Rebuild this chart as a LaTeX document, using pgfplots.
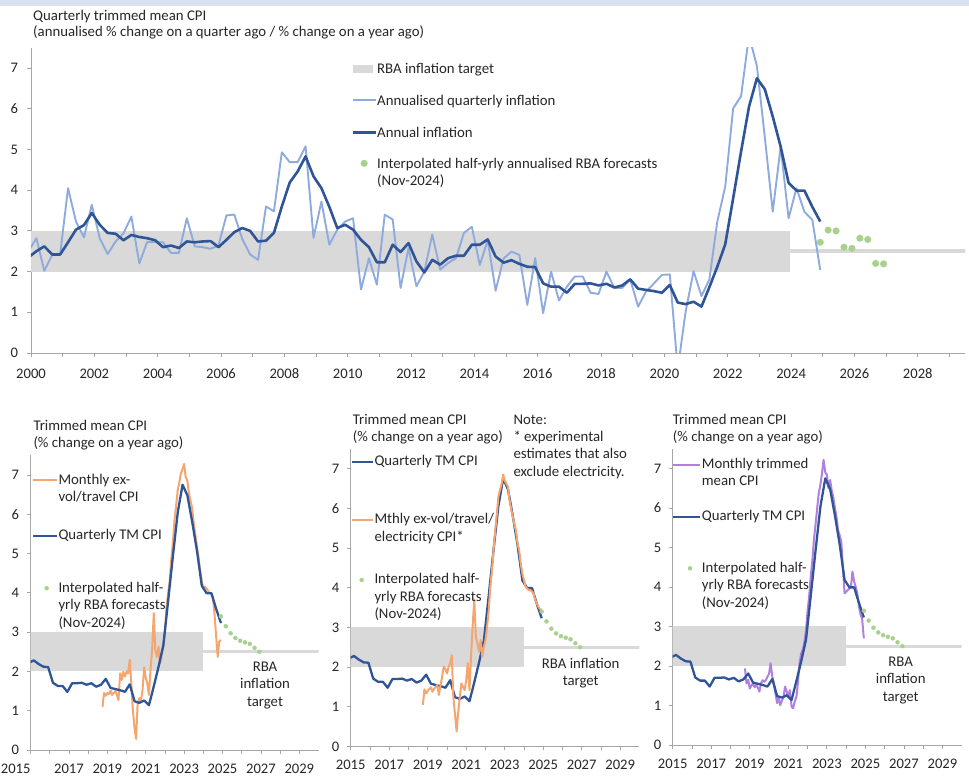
\documentclass[border=0pt]{standalone}
\usepackage{pgfplots}
\pgfplotsset{compat=1.18}
\usepackage{pgfplotstable}
\usepackage{fontspec}
\setmainfont{Carlito}
\definecolor{band}{HTML}{D9D9D9}
\definecolor{lightblue}{HTML}{8FAADC}
\definecolor{darkblue}{HTML}{2F5597}
\definecolor{fcgreen}{HTML}{A9D18E}
\definecolor{orangeline}{HTML}{F5A56E}
\definecolor{purpleline}{HTML}{B07FE0}
\definecolor{headblue}{HTML}{D9E2F3}
\definecolor{axisgray}{HTML}{A6A6A6}
\definecolor{txt}{HTML}{262626}

% quarterly trimmed mean: annual (ann) and annualised quarterly (qtr)
\pgfplotstableread{
x ann qtr
1999.92 2.35 2.50
2000.17 2.50 2.82
2000.42 2.62 2.02
2000.67 2.42 2.41
2000.92 2.42 2.42
2001.17 2.72 4.05
2001.42 3.03 3.23
2001.67 3.14 2.84
2001.92 3.44 3.64
2002.17 3.15 2.82
2002.42 2.95 2.43
2002.67 2.93 2.74
2002.92 2.77 2.94
2003.17 2.90 3.35
2003.42 2.85 2.20
2003.67 2.82 2.73
2003.92 2.77 2.72
2004.17 2.60 2.72
2004.42 2.64 2.46
2004.67 2.58 2.46
2004.92 2.74 3.31
2005.17 2.72 2.62
2005.42 2.74 2.60
2005.67 2.75 2.56
2005.92 2.60 2.64
2006.17 2.78 3.38
2006.42 2.97 3.40
2006.67 3.07 2.80
2006.92 3.00 2.42
2007.17 2.74 2.29
2007.42 2.76 3.60
2007.67 2.95 3.48
2007.92 3.60 4.93
2008.17 4.19 4.69
2008.42 4.46 4.69
2008.67 4.83 5.08
2008.92 4.34 2.83
2009.17 4.05 3.72
2009.42 3.59 2.66
2009.67 3.07 3.03
2009.92 3.15 3.23
2010.17 3.03 3.31
2010.42 2.78 1.56
2010.67 2.60 2.33
2010.92 2.23 1.68
2011.17 2.23 3.40
2011.42 2.66 3.28
2011.67 2.48 1.60
2011.92 2.70 2.58
2012.17 2.25 1.64
2012.42 1.98 2.00
2012.67 2.29 2.91
2012.92 2.17 2.05
2013.17 2.33 2.21
2013.42 2.39 2.33
2013.67 2.39 2.95
2013.92 2.66 3.10
2014.17 2.66 2.16
2014.42 2.79 2.77
2014.67 2.37 1.53
2014.92 2.22 2.32
2015.17 2.28 2.49
2015.42 2.19 2.41
2015.67 2.12 1.18
2015.92 2.11 2.33
2016.17 1.71 0.98
2016.42 1.63 2.00
2016.67 1.63 1.29
2016.92 1.48 1.63
2017.17 1.70 1.88
2017.42 1.70 1.88
2017.67 1.71 1.48
2017.92 1.66 1.45
2018.17 1.70 2.00
2018.42 1.61 1.60
2018.67 1.66 1.60
2018.92 1.81 1.81
2019.17 1.58 1.14
2019.42 1.55 1.51
2019.67 1.52 1.71
2019.92 1.48 1.92
2020.17 1.67 1.93
2020.42 1.24 -0.40
2020.67 1.20 1.02
2020.92 1.26 2.01
2021.17 1.14 1.40
2021.42 1.62 1.81
2021.67 2.12 3.23
2021.92 2.67 4.09
2022.17 3.80 6.01
2022.42 4.95 6.31
2022.67 6.05 7.80
2022.92 6.75 7.05
2023.17 6.48 5.30
2023.42 5.81 3.47
2023.67 5.07 5.07
2023.92 4.18 3.31
2024.17 3.99 4.05
2024.42 3.99 3.47
2024.67 3.59 3.27
2024.92 3.23 2.04
}\quarterly

% interpolated half-yearly annualised RBA forecasts (top panel)
\pgfplotstableread{
x v
2024.92 2.72
2025.17 3.02
2025.42 3.00
2025.67 2.60
2025.92 2.57
2026.17 2.82
2026.42 2.79
2026.67 2.20
2026.92 2.19
}\fcTop

% interpolated RBA forecasts, year-ended (bottom panels)
\pgfplotstableread{
x v
2024.92 3.40
2025.17 3.15
2025.42 2.97
2025.67 2.85
2025.92 2.78
2026.17 2.74
2026.42 2.70
2026.67 2.60
2026.92 2.50
}\fcYr

% monthly ex-volatile/travel CPI
\pgfplotstableread{
x v
2018.75 1.10
2018.83 1.45
2018.92 1.38
2019.00 1.45
2019.08 1.42
2019.17 1.51
2019.25 1.40
2019.33 1.45
2019.42 1.50
2019.50 1.40
2019.58 1.27
2019.67 1.95
2019.75 1.78
2019.83 1.99
2019.92 1.87
2020.00 2.00
2020.08 1.95
2020.17 2.29
2020.25 1.70
2020.33 1.02
2020.42 0.55
2020.50 0.28
2020.58 1.19
2020.67 1.32
2020.75 1.25
2020.83 1.50
2020.92 2.10
2021.00 1.85
2021.08 1.70
2021.17 1.40
2021.25 2.04
2021.33 2.50
2021.42 3.48
2021.50 2.54
2021.58 2.37
2021.67 2.63
2021.75 2.20
2021.83 2.40
2021.92 2.63
2022.00 3.00
2022.08 3.60
2022.17 4.00
2022.25 4.30
2022.33 4.83
2022.42 5.30
2022.50 5.85
2022.58 6.20
2022.67 6.62
2022.75 6.80
2022.83 7.04
2022.92 7.15
2023.00 7.28
2023.08 6.95
2023.17 6.85
2023.25 6.53
2023.33 6.35
2023.42 6.15
2023.50 5.77
2023.58 5.50
2023.67 5.17
2023.75 4.92
2023.83 4.60
2023.92 4.30
2024.00 4.11
2024.08 4.16
2024.17 4.11
2024.25 4.05
2024.33 3.99
2024.42 3.99
2024.50 3.90
2024.58 3.48
2024.67 2.88
2024.75 2.37
2024.83 2.76
2024.92 2.80
}\mA

% monthly ex-volatile/travel/electricity CPI
\pgfplotstableread{
x v
2018.75 1.05
2018.83 1.44
2018.92 1.34
2019.00 1.40
2019.08 1.45
2019.17 1.49
2019.25 1.38
2019.33 1.45
2019.42 1.50
2019.50 1.55
2019.58 1.30
2019.67 1.55
2019.75 1.76
2019.83 2.01
2019.92 1.95
2020.00 1.84
2020.08 2.00
2020.17 2.10
2020.25 2.30
2020.33 1.25
2020.42 0.80
2020.50 0.38
2020.58 0.84
2020.67 1.25
2020.75 1.59
2020.83 1.50
2020.92 1.42
2021.00 1.68
2021.08 2.10
2021.17 1.42
2021.25 2.26
2021.33 3.00
2021.42 3.70
2021.50 2.77
2021.58 2.60
2021.67 2.39
2021.75 2.68
2021.83 2.26
2021.92 2.51
2022.00 2.68
2022.08 3.00
2022.17 3.44
2022.25 4.00
2022.33 4.40
2022.42 4.95
2022.50 5.40
2022.58 5.79
2022.67 6.29
2022.75 6.45
2022.83 6.59
2022.92 6.85
2023.00 6.70
2023.08 6.63
2023.17 6.54
2023.25 6.21
2023.33 6.00
2023.42 5.79
2023.50 5.60
2023.58 5.45
2023.67 5.10
2023.75 4.95
2023.83 4.61
2023.92 4.35
2024.00 4.19
2024.08 4.03
2024.17 3.98
2024.25 3.94
2024.33 3.94
2024.42 3.90
2024.50 3.86
2024.58 3.70
2024.67 3.60
2024.75 3.52
2024.83 3.46
2024.92 3.44
}\mB

% monthly trimmed mean CPI
\pgfplotstableread{
x v
2018.75 1.94
2018.83 1.56
2018.92 1.65
2019.00 1.43
2019.08 1.50
2019.17 1.56
2019.25 1.46
2019.33 1.52
2019.42 1.45
2019.50 1.35
2019.58 1.56
2019.67 1.64
2019.75 1.60
2019.83 1.64
2019.92 1.73
2020.00 1.80
2020.08 2.07
2020.17 1.73
2020.25 1.56
2020.33 1.31
2020.42 1.06
2020.50 1.22
2020.58 1.01
2020.67 1.12
2020.75 1.22
2020.83 1.48
2020.92 1.35
2021.00 1.22
2021.08 1.39
2021.17 0.97
2021.25 0.93
2021.33 1.10
2021.42 1.22
2021.50 1.56
2021.58 2.07
2021.67 2.32
2021.75 2.41
2021.83 2.60
2021.92 2.91
2022.00 3.40
2022.08 3.75
2022.17 4.30
2022.25 4.68
2022.33 5.20
2022.42 5.61
2022.50 6.00
2022.58 6.37
2022.67 6.60
2022.75 6.88
2022.83 7.22
2022.92 6.90
2023.00 6.84
2023.08 6.50
2023.17 6.71
2023.25 6.45
2023.33 6.29
2023.42 6.00
2023.50 5.78
2023.58 5.44
2023.67 5.30
2023.75 5.15
2023.83 4.51
2023.92 3.84
2024.00 3.88
2024.08 3.92
2024.17 3.96
2024.25 4.01
2024.33 4.39
2024.42 4.13
2024.50 4.00
2024.58 3.84
2024.67 3.50
2024.75 3.30
2024.83 3.20
2024.92 2.70
}\mC

\pgfplotsset{
  cpiaxis/.style={
    scale only axis, anchor=south west, enlargelimits=false,
    axis x line*=bottom, axis y line*=left,
    ymin=0, ymax=7.5, ytick={0,1,...,7},
    tick align=outside, major tick length=4pt, minor tick length=4pt,
    axis line style={axisgray, line width=0.8pt},
    tick style={axisgray, line width=0.8pt},
    tick label style={font=\fontsize{14.6}{16}\selectfont, text=txt},
    /pgf/number format/assume math mode=true,
    /pgf/number format/1000 sep={},
    every axis plot/.append style={line join=round},
  },
  smallpanel/.style={
    cpiaxis, width=288pt, xmin=2015, xmax=2030,
    xtick={2015,2017,...,2029}, minor xtick={2016,2018,...,2028},
    xticklabel style={yshift=-6pt}, yticklabel style={xshift=-4pt},
  },
}

\begin{document}
\begin{tikzpicture}[font=\fontsize{14.8}{17}\selectfont]
\useasboundingbox (0pt,0pt) rectangle (969pt,776pt);

% ---------- top chart ----------
\begin{axis}[cpiaxis, at={(31pt,423pt)}, width=934.3pt, height=305.25pt,
  xmin=2000, xmax=2029.5,
  xtick={2000,2002,...,2028}, minor xtick={2001,2003,...,2029},
  xticklabel style={yshift=-8pt}, yticklabel style={xshift=-5.5pt}]
\addplot[fill=band, draw=none] coordinates {(1999,2) (2023.95,2) (2023.95,3) (1999,3)};
\addplot[band, line width=4pt] coordinates {(2023.95,2.5) (2031,2.5)};
\addplot[lightblue, line width=1.9pt] table[x=x, y=qtr] {\quarterly};
\addplot[darkblue, line width=2.6pt] table[x=x, y=ann] {\quarterly};
\addplot[only marks, mark=*, mark size=3.3pt, fcgreen] table[x=x, y=v] {\fcTop};
% legend samples
\addplot[fill=band, draw=none] coordinates {(2010.17,6.87) (2010.80,6.87) (2010.80,7.08) (2010.17,7.08)};
\addplot[lightblue, line width=1.9pt] coordinates {(2010.17,6.216) (2010.89,6.216)};
\addplot[darkblue, line width=2.6pt] coordinates {(2010.17,5.42) (2010.89,5.42)};
\addplot[only marks, mark=*, mark size=3.3pt, fcgreen] coordinates {(2010.52,4.66)};
\end{axis}

% ---------- bottom left ----------
\begin{axis}[smallpanel, at={(30.5pt,26pt)}, height=294.75pt,
  xticklabels={\makebox[0pt][r]{2015},2017,2019,2021,2023,2025,2027,2029}]
\addplot[fill=band, draw=none] coordinates {(2014,2) (2024,2) (2024,3) (2014,3)};
\addplot[band, line width=3pt] coordinates {(2024,2.5) (2031,2.5)};
\addplot[orangeline, line width=2pt] table[x=x, y=v] {\mA};
\addplot[darkblue, line width=2.3pt] table[x=x, y=ann] {\quarterly};
\addplot[only marks, mark=*, mark size=2pt, fcgreen] table[x=x, y=v] {\fcYr};
\addplot[orangeline, line width=2pt] coordinates {(2015.15,6.87) (2016.37,6.87)};
\addplot[darkblue, line width=2.3pt] coordinates {(2015.15,5.453) (2016.37,5.453)};
\addplot[only marks, mark=*, mark size=2pt, fcgreen] coordinates {(2015.84,4.115)};
\end{axis}

% ---------- bottom middle ----------
\begin{axis}[smallpanel, at={(350.7pt,29.5pt)}, height=297.75pt, width=288.75pt]
\addplot[fill=band, draw=none] coordinates {(2014,2) (2024,2) (2024,3) (2014,3)};
\addplot[band, line width=3pt] coordinates {(2024,2.5) (2031,2.5)};
\addplot[darkblue, line width=2.3pt] table[x=x, y=ann] {\quarterly};
\addplot[orangeline, line width=2pt] table[x=x, y=v] {\mB};
\addplot[only marks, mark=*, mark size=2pt, fcgreen] table[x=x, y=v] {\fcYr};
\addplot[darkblue, line width=2.3pt] coordinates {(2015.05,7.174) (2016.17,7.174)};
\addplot[orangeline, line width=2pt] coordinates {(2015.05,5.705) (2016.17,5.705)};
\addplot[only marks, mark=*, mark size=2pt, fcgreen] coordinates {(2015.57,4.194)};
\end{axis}

% ---------- bottom right ----------
\begin{axis}[smallpanel, at={(672.7pt,31pt)}, height=296.25pt, width=289pt]
\addplot[fill=band, draw=none] coordinates {(2014,2) (2024,2) (2024,3) (2014,3)};
\addplot[band, line width=3pt] coordinates {(2024,2.5) (2031,2.5)};
\addplot[purpleline, line width=2pt] table[x=x, y=v] {\mC};
\addplot[darkblue, line width=2.3pt] table[x=x, y=ann] {\quarterly};
\addplot[only marks, mark=*, mark size=2pt, fcgreen] table[x=x, y=v] {\fcYr};
\addplot[purpleline, line width=2pt] coordinates {(2015.03,7.089) (2016.42,7.089)};
\addplot[darkblue, line width=2.3pt] coordinates {(2015.03,5.78) (2016.42,5.78)};
\addplot[only marks, mark=*, mark size=2pt, fcgreen] coordinates {(2015.90,4.473)};
\end{axis}

% ---------- texts ----------
\begin{scope}[shift={(0pt,776pt)}, x=1pt, y=-1pt,
  every node/.style={inner sep=0pt, text=txt}]
\fill[headblue] (0,0) rectangle (969,6.5);
% top
\node[anchor=base west] at (33,20.5) {Quarterly trimmed mean CPI};
\node[anchor=base west] at (33,37) {(annualised \% change on a quarter ago / \% change on a year ago)};
\node[anchor=base west] at (377,73.3) {RBA inflation target};
\node[anchor=base west] at (377,105.5) {Annualised quarterly inflation};
\node[anchor=base west] at (377,137.5) {Annual inflation};
\node[anchor=base west] at (377,169) {Interpolated half-yrly annualised RBA forecasts};
\node[anchor=base west] at (377,186) {(Nov-2024)};
% bottom left
\node[anchor=base west] at (33.3,431) {Trimmed mean CPI};
\node[anchor=base west] at (33.3,448) {(\% change on a year ago)};
\node[anchor=base west] at (58.3,484.5) {Monthly ex-};
\node[anchor=base west] at (58.3,502) {vol/travel CPI};
\node[anchor=base west] at (58.3,540) {Quarterly TM CPI};
\node[anchor=base west] at (58.3,592.7) {Interpolated half-};
\node[anchor=base west] at (58.3,610) {yrly RBA forecasts};
\node[anchor=base west] at (58.3,627.5) {(Nov-2024)};
\node[anchor=base] at (265,671.5) {RBA};
\node[anchor=base] at (265,689) {inflation};
\node[anchor=base] at (265,706.5) {target};
% bottom middle
\node[anchor=base west] at (352.7,425) {Trimmed mean CPI};
\node[anchor=base west] at (352.7,441.7) {(\% change on a year ago)};
\node[anchor=base west] at (513.3,425) {Note:};
\node[anchor=base west] at (513.3,441.7) {* experimental};
\node[anchor=base west] at (513.3,459) {estimates that also};
\node[anchor=base west] at (513.3,476.5) {exclude electricity.};
\node[anchor=base west] at (374.3,466) {Quarterly TM CPI};
\node[anchor=base west] at (374.3,524) {Mthly ex-vol/travel/};
\node[anchor=base west] at (374.3,541.5) {electricity CPI*};
\node[anchor=base west] at (374.3,584) {Interpolated half-};
\node[anchor=base west] at (374.3,601.5) {yrly RBA forecasts};
\node[anchor=base west] at (374.3,619) {(Nov-2024)};
\node[anchor=base] at (580.7,668.3) {RBA inflation};
\node[anchor=base] at (580.7,685.7) {target};
% bottom right
\node[anchor=base west] at (672.7,425) {Trimmed mean CPI};
\node[anchor=base west] at (672.7,441.7) {(\% change on a year ago)};
\node[anchor=base west] at (701.7,468.3) {Monthly trimmed};
\node[anchor=base west] at (701.7,485.7) {mean CPI};
\node[anchor=base west] at (701.7,520.7) {Quarterly TM CPI};
\node[anchor=base west] at (701.7,572.7) {Interpolated half-};
\node[anchor=base west] at (701.7,590) {yrly RBA forecasts};
\node[anchor=base west] at (701.7,607.7) {(Nov-2024)};
\node[anchor=base] at (900.7,666.7) {RBA};
\node[anchor=base] at (900.7,684) {inflation};
\node[anchor=base] at (900.7,701.3) {target};
\end{scope}
\end{tikzpicture}
\end{document}
